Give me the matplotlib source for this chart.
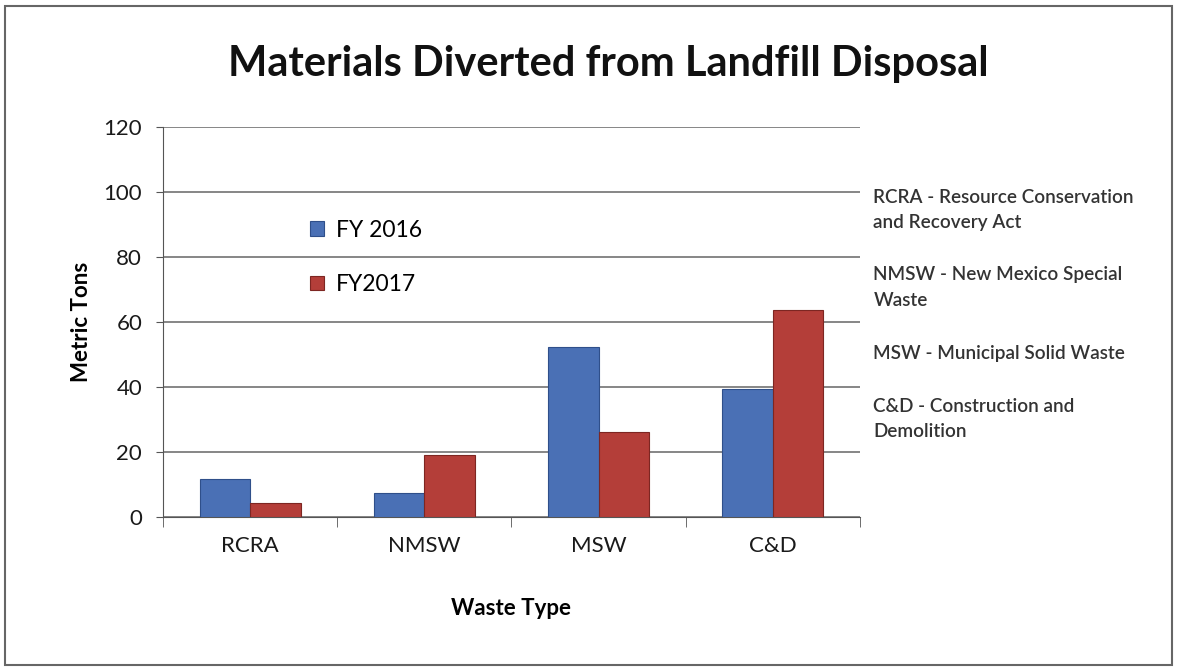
import matplotlib.pyplot as plt
import numpy as np
from matplotlib.patches import Rectangle

# data
categories = ['RCRA', 'NMSW', 'MSW', 'C&D']
fy2016 = [11.7, 7.4, 52.2, 39.4]
fy2017 = [4.3, 19.1, 26.2, 63.6]
series_names = ['FY 2016', 'FY2017']
notes = ['RCRA - Resource Conservation\nand Recovery Act',
         'NMSW - New Mexico Special\nWaste',
         'MSW - Municipal Solid Waste',
         'C&D - Construction and\nDemolition']

plt.rcParams['font.family'] = ['Lato', 'DejaVu Sans']

fig = plt.figure(figsize=(11.77, 6.69), dpi=100)
ax = fig.add_axes([0.1385, 0.2272, 0.592, 0.583])

x = np.arange(len(categories))
w = 0.29
ax.bar(x - w/2, fy2016, w, color='#4a70b5', edgecolor='#2f4f8a', linewidth=0.8,
       label=series_names[0], zorder=3)
ax.bar(x + w/2, fy2017, w, color='#b43e39', edgecolor='#7d2622', linewidth=0.8,
       label=series_names[1], zorder=3)

ax.set_xlim(-0.5, len(categories) - 0.5)
ax.set_ylim(0, 120)
ax.set_yticks(np.arange(0, 121, 20))
ax.set_xticks(x)
ax.set_xticklabels(categories, fontsize=16, color='#1a1a1a')
ax.set_xticks(np.arange(-0.5, len(categories)), minor=True)
ax.tick_params(axis='x', which='major', length=0, pad=14)
ax.tick_params(axis='x', which='minor', length=7, color='#555555')
ax.tick_params(axis='y', labelsize=16, labelcolor='#1a1a1a', length=5, color='#555555', pad=10)
ax.grid(axis='y', color='#666666', linewidth=1.1, zorder=0)
for s in ['top', 'right']:
    ax.spines[s].set_visible(False)
for s in ['left', 'bottom']:
    ax.spines[s].set_color('#555555')

ax.set_ylabel('Metric Tons', fontsize=16, fontweight='bold', labelpad=8)
ax.set_xlabel('Waste Type', fontsize=16, fontweight='bold', labelpad=30)

fig.text(0.517, 0.905, 'Materials Diverted from Landfill Disposal', ha='center', va='center',
         fontsize=30, fontweight='bold', color='#111111')

ax.legend(loc='upper left', bbox_to_anchor=(0.182, 0.815), frameon=False, fontsize=16.5,
          handlelength=0.6, handleheight=0.6, labelspacing=1.45, handletextpad=0.5)

ys = [0.686, 0.570, 0.472, 0.374]
for t, y in zip(notes, ys):
    fig.text(0.742, y, t, ha='left', va='center', fontsize=13.6, fontweight='semibold',
             color='#333333', linespacing=1.6)

fig.patches.append(Rectangle((0.004, 0.006), 0.992, 0.985, transform=fig.transFigure,
                             fill=False, edgecolor='#666666', linewidth=1.5))

fig.savefig('out.png', dpi=100)
